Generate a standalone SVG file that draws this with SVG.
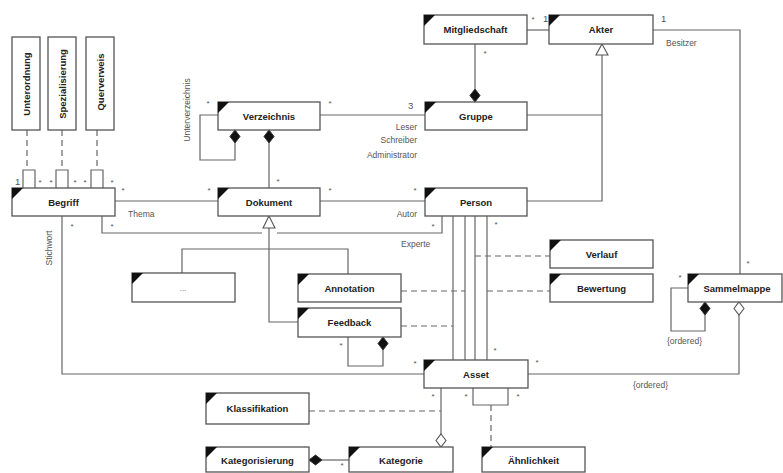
<svg xmlns="http://www.w3.org/2000/svg" width="783" height="473" viewBox="0 0 783 473">
<style>
.box{fill:#fff;stroke:#555;stroke-width:1.3}
.cor{fill:#111}
.t{font-family:"Liberation Sans",Arial,sans-serif;font-size:9.5px;font-weight:bold;fill:#222;text-anchor:middle}
.tv{font-family:"Liberation Sans",Arial,sans-serif;font-size:9.5px;font-weight:bold;fill:#222;text-anchor:middle}
.l{font-family:"Liberation Sans",Arial,sans-serif;font-size:8.5px;fill:#555}
.m{font-family:"Liberation Sans",Arial,sans-serif;font-size:8px;fill:#555}
.ln{fill:none;stroke:#666;stroke-width:1.2}
.d{fill:none;stroke:#666;stroke-width:1.2;stroke-dasharray:6,4}
.fd{fill:#111;stroke:#333;stroke-width:1}
.hd{fill:#fff;stroke:#555;stroke-width:1.1}
.e{text-anchor:end}
.c{text-anchor:middle}
</style>
<rect width="783" height="473" fill="#fff"/>
<g id="connectors">
<path class="d" d="M27,130V170M62,130V170M97,130V170"/>
<path class="ln" d="M23,188V170H35V188M56,188V170H68V188M91,188V170H103V188"/>
<path class="ln" d="M115,201H218"/>
<path class="ln" d="M102,216V233H262M277,233H442V216"/>
<path class="ln" d="M62,216V374H424"/>
<path class="ln" d="M218,115H200V160H235V143"/>
<polygon class="fd" points="235,130 240,136.5 235,143 230,136.5"/>
<path class="ln" d="M269,143V188"/>
<polygon class="fd" points="269,130 274,136.5 269,143 264,136.5"/>
<path class="ln" d="M320,115H425"/>
<path class="ln" d="M527,30H549"/>
<path class="ln" d="M475,44V89"/>
<polygon class="fd" points="475,89 480,95.5 475,102 470,95.5"/>
<path class="ln" d="M602,55V201H527M527,115H602"/>
<polygon class="hd" points="602,44 608,55 596,55"/>
<path class="ln" d="M653,30H740V274"/>
<path class="ln" d="M320,201H425"/>
<path class="ln" d="M269,228V322H298M182,273V249H348V274"/>
<polygon class="hd" points="269,216 275,228 263,228"/>
<path class="ln" d="M453,216V360M465,216V360M475,216V360M487,216V360"/>
<path class="d" d="M475,256H550M401,291H465M487,291H550M401,326H453"/>
<path class="ln" d="M348,337V366H383V350"/>
<polygon class="fd" points="383,337 388,343.5 383,350 378,343.5"/>
<path class="ln" d="M688,288H671V331H705V315"/>
<polygon class="fd" points="705,302 710,308.5 705,315 700,308.5"/>
<path class="ln" d="M739,315V374H528"/>
<polygon class="hd" points="739,302 744,308.5 739,315 734,308.5"/>
<path class="ln" d="M473,388V405H508V388"/>
<path class="d" d="M491,405V447"/>
<path class="ln" d="M441,388V434"/>
<polygon class="hd" points="441,434 446,440.5 441,447 436,440.5"/>
<path class="d" d="M309,411H441"/>
<path class="ln" d="M322,460H349"/>
<polygon class="fd" points="309,460 315.5,455 322,460 315.5,465"/>
<text class="l" x="15" y="185" style="font-size:9.5px">1</text>
<text class="m c" x="40" y="185">*</text>
<text class="m c" x="51" y="185">*</text>
<text class="m c" x="75" y="185">*</text>
<text class="m c" x="85" y="185">*</text>
<text class="m c" x="112" y="185">*</text>
<text class="m c" x="123" y="193">*</text>
<text class="l" x="128" y="217">Thema</text>
<text class="m c" x="209" y="193">*</text>
<text class="m c" x="72" y="229">*</text>
<text class="m c" x="112" y="229">*</text>
<text class="l c" x="52" y="248" transform="rotate(-90,52,248)">Stichwort</text>
<text class="l c" x="190" y="110" transform="rotate(-90,190,110)">Unterverzeichnis</text>
<text class="m c" x="208" y="106">*</text>
<text class="m c" x="278" y="184">*</text>
<text class="m c" x="330" y="106">*</text>
<text class="l" x="408" y="109" style="font-size:9.5px">3</text>
<text class="l e" x="417" y="130">Leser</text>
<text class="l e" x="417" y="143">Schreiber</text>
<text class="l e" x="417" y="158">Administrator</text>
<text class="m c" x="533" y="22">*</text>
<text class="l" x="543" y="22" style="font-size:9.5px">1</text>
<text class="m c" x="485" y="56">*</text>
<text class="l" x="661" y="22" style="font-size:9.5px">1</text>
<text class="l" x="666" y="46">Besitzer</text>
<text class="m c" x="330" y="193">*</text>
<text class="m c" x="415" y="193">*</text>
<text class="l e" x="417" y="217">Autor</text>
<text class="m c" x="433" y="229">*</text>
<text class="l" x="401" y="247">Experte</text>
<text class="m c" x="496" y="227">*</text>
<text class="m c" x="495" y="353">*</text>
<text class="m c" x="415" y="366">*</text>
<text class="m c" x="537" y="365">*</text>
<text class="m c" x="680" y="280">*</text>
<text class="l" x="667" y="344">{ordered}</text>
<text class="m c" x="748" y="266">*</text>
<text class="l" x="633" y="388">{ordered}</text>
<text class="m c" x="341" y="348">*</text>
<text class="m c" x="433" y="399">*</text>
<text class="m c" x="466" y="399">*</text>
<text class="m c" x="518" y="399">*</text>
<text class="m c" x="342" y="468">*</text>
</g>
<g id="Unterordnung"><rect class="box" x="12" y="37" width="28" height="93"/><text class="tv" x="30" y="84" transform="rotate(-90,30,84)">Unterordnung</text></g>
<g id="Spezialisierung"><rect class="box" x="48" y="37" width="28" height="93"/><text class="tv" x="65.5" y="84" transform="rotate(-90,65.5,84)">Spezialisierung</text></g>
<g id="Querverweis"><rect class="box" x="86" y="37" width="28" height="93"/><text class="tv" x="103.5" y="82" transform="rotate(-90,103.5,82)">Querverweis</text></g>
<g id="Begriff"><rect class="box" x="12" y="188" width="103" height="28"/><polygon class="cor" points="12,188 23,188 12,199"/><text class="t" x="63.5" y="205.5">Begriff</text></g>
<g id="Verzeichnis"><rect class="box" x="218" y="102" width="102" height="28"/><polygon class="cor" points="218,102 229,102 218,113"/><text class="t" x="269" y="119.5">Verzeichnis</text></g>
<g id="Dokument"><rect class="box" x="218" y="188" width="102" height="28"/><polygon class="cor" points="218,188 229,188 218,199"/><text class="t" x="269" y="205.5">Dokument</text></g>
<g id="Mitgliedschaft"><rect class="box" x="424" y="15" width="103" height="29"/><polygon class="cor" points="424,15 435,15 424,26"/><text class="t" x="475.5" y="33">Mitgliedschaft</text></g>
<g id="Akter"><rect class="box" x="549" y="15" width="104" height="29"/><polygon class="cor" points="549,15 560,15 549,26"/><text class="t" x="601" y="33">Akter</text></g>
<g id="Gruppe"><rect class="box" x="425" y="102" width="102" height="28"/><polygon class="cor" points="425,102 436,102 425,113"/><text class="t" x="476" y="119.5">Gruppe</text></g>
<g id="Person"><rect class="box" x="425" y="188" width="102" height="28"/><polygon class="cor" points="425,188 436,188 425,199"/><text class="t" x="476" y="205.5">Person</text></g>
<g id="Weitere"><rect class="box" x="132" y="273" width="103" height="29"/><polygon class="cor" points="132,273 143,273 132,284"/><text class="l c" x="183" y="291" style="font-size:8px">...</text></g>
<g id="Annotation"><rect class="box" x="298" y="274" width="103" height="28"/><polygon class="cor" points="298,274 309,274 298,285"/><text class="t" x="349.5" y="291.5">Annotation</text></g>
<g id="Feedback"><rect class="box" x="298" y="308" width="103" height="29"/><polygon class="cor" points="298,308 309,308 298,319"/><text class="t" x="349.5" y="326">Feedback</text></g>
<g id="Verlauf"><rect class="box" x="550" y="240" width="103" height="28"/><polygon class="cor" points="550,240 561,240 550,251"/><text class="t" x="601.5" y="257.5">Verlauf</text></g>
<g id="Bewertung"><rect class="box" x="550" y="274" width="103" height="28"/><polygon class="cor" points="550,274 561,274 550,285"/><text class="t" x="601.5" y="291.5">Bewertung</text></g>
<g id="Sammelmappe"><rect class="box" x="688" y="274" width="94" height="28"/><polygon class="cor" points="688,274 699,274 688,285"/><text class="t" x="737" y="291.5">Sammelmappe</text></g>
<g id="Asset"><rect class="box" x="424" y="360" width="104" height="28"/><polygon class="cor" points="424,360 435,360 424,371"/><text class="t" x="476" y="377.5">Asset</text></g>
<g id="Klassifikation"><rect class="box" x="206" y="393" width="103" height="31"/><polygon class="cor" points="206,393 217,393 206,404"/><text class="t" x="257.5" y="412">Klassifikation</text></g>
<g id="Kategorisierung"><rect class="box" x="206" y="447" width="103" height="25"/><polygon class="cor" points="206,447 217,447 206,458"/><text class="t" x="257.5" y="464">Kategorisierung</text></g>
<g id="Kategorie"><rect class="box" x="349" y="447" width="104" height="25"/><polygon class="cor" points="349,447 360,447 349,458"/><text class="t" x="401" y="464">Kategorie</text></g>
<g id="Aehnlichkeit"><rect class="box" x="482" y="447" width="103" height="25"/><polygon class="cor" points="482,447 493,447 482,458"/><text class="t" x="533.5" y="464">Ähnlichkeit</text></g>
</svg>
